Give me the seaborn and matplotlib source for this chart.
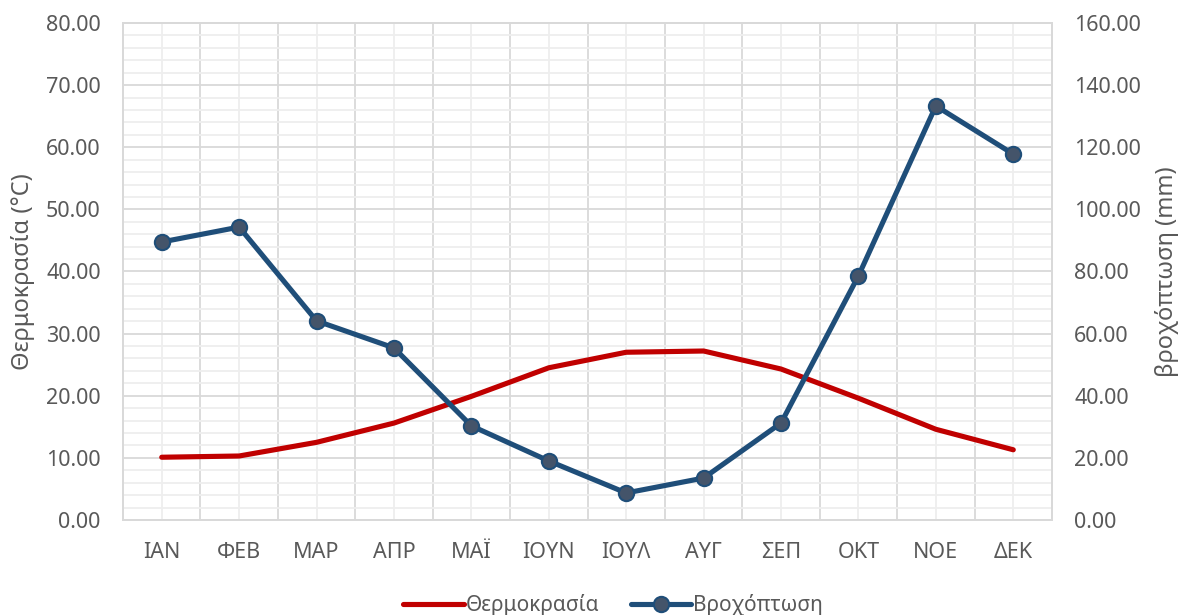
import matplotlib
matplotlib.use("Agg")
import matplotlib.pyplot as plt
from matplotlib.ticker import MultipleLocator, FormatStrFormatter
from matplotlib.lines import Line2D
import seaborn as sns
import pandas as pd

months = ["ΙΑΝ", "ΦΕΒ", "ΜΑΡ", "ΑΠΡ", "ΜΑΪ", "ΙΟΥΝ", "ΙΟΥΛ", "ΑΥΓ", "ΣΕΠ", "ΟΚΤ", "ΝΟΕ", "ΔΕΚ"]
temperature = [10.1, 10.3, 12.5, 15.6, 19.9, 24.5, 27.0, 27.2, 24.3, 19.6, 14.6, 11.3]
rainfall = [89.5, 94.3, 64.1, 55.4, 30.3, 19.0, 8.7, 13.5, 31.2, 78.6, 133.3, 117.8]

sns.set_theme(style="white")
plt.rcParams["font.family"] = ["Noto Sans", "DejaVu Sans"]

TEXT = "#595959"
RED = "#c00000"
BLUE = "#1f4e79"
MARKER = "#44546a"
LW = 3.7

df = pd.DataFrame({"month": months, "temp": temperature, "rain": rainfall})
df["pos"] = range(len(months))

fig = plt.figure(figsize=(11.84, 6.15), dpi=100)
ax = fig.add_axes([0.1039, 0.1545, 0.7846, 0.8081])
ax2 = ax.twinx()

sns.lineplot(data=df, x="pos", y="temp", ax=ax, color=RED, linewidth=LW,
             solid_capstyle="round", solid_joinstyle="round", zorder=3)
sns.lineplot(data=df, x="pos", y="rain", ax=ax2, color=BLUE, linewidth=LW,
             marker="o", markersize=11, markerfacecolor=MARKER,
             markeredgecolor=BLUE, markeredgewidth=1.5,
             solid_capstyle="round", solid_joinstyle="round", zorder=3)

ax.set_xlim(-0.5, len(months) - 0.5)
ax.set_ylim(0, 80)
ax2.set_ylim(0, 160)

# category ticks at centres, boundaries as major vertical gridlines
ax.set_xticks([i + 0.5 for i in range(len(months) - 1)])
ax.set_xticklabels([])
ax.set_xticks(range(len(months)), minor=True)
ax.set_xticklabels(months, minor=True)
ax.tick_params(axis="x", which="both", length=0)
ax.tick_params(axis="x", which="minor", pad=16, labelsize=15.5, labelcolor=TEXT)

ax.yaxis.set_major_locator(MultipleLocator(10))
ax.yaxis.set_minor_locator(MultipleLocator(2))
ax.yaxis.set_major_formatter(FormatStrFormatter("%.2f"))
ax.tick_params(axis="y", which="both", length=0, pad=16, labelsize=15.5, labelcolor=TEXT)

ax2.yaxis.set_major_locator(MultipleLocator(20))
ax2.yaxis.set_major_formatter(FormatStrFormatter("%.2f"))
ax2.tick_params(axis="y", which="both", length=0, pad=16, labelsize=15.5, labelcolor=TEXT)

ax.grid(which="major", color="#d9d9d9", linewidth=1.3)
ax.grid(which="minor", color="#eeeeee", linewidth=1.3)
ax2.grid(False)
ax.set_axisbelow(True)

for a in (ax, ax2):
    for s in a.spines.values():
        s.set_color("#d9d9d9")
        s.set_linewidth(1.3)

ax.set_xlabel("")
ax.set_ylabel("Θερμοκρασία (°C)", fontsize=17, color=TEXT, labelpad=8)
ax2.set_ylabel("βροχόπτωση (mm)", fontsize=17, color=TEXT, labelpad=10, rotation=90)

handles = [
    Line2D([], [], color=RED, linewidth=LW, solid_capstyle="round"),
    Line2D([], [], color=BLUE, linewidth=LW, marker="o", markersize=11,
           markerfacecolor=MARKER, markeredgecolor=BLUE, markeredgewidth=1.5,
           solid_capstyle="round"),
]
fig.legend(handles, ["Θερμοκρασία", "Βροχόπτωση"], loc="center",
           bbox_to_anchor=(0.518, 0.016), ncol=2, frameon=False, fontsize=15,
           labelcolor=TEXT, handlelength=2.9, handletextpad=0.1, columnspacing=1.5)

fig.savefig("out.png", dpi=100)
